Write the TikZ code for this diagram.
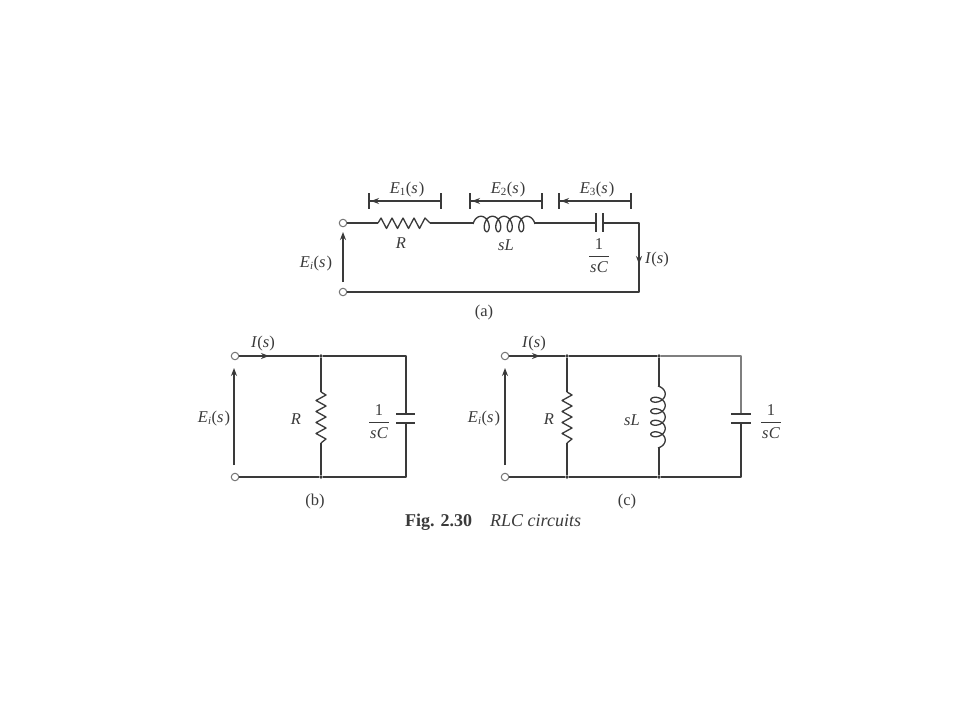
\documentclass[tikz,border=0pt]{standalone}
\usepackage{fontspec}
\setmainfont{Liberation Serif}
\usetikzlibrary{arrows.meta}
\definecolor{ink}{HTML}{3A3A3A}
\newcommand{\Evar}[1]{\textit{E}\raisebox{-0.3ex}{\fontsize{11}{12}\selectfont #1}\kern0.5pt(\textit{s}\kern1pt)}
\newcommand{\Is}{\textit{I}(\textit{s})}
\newcommand{\frc}{$\displaystyle\frac{\textrm{1}\rule[-3pt]{0pt}{0pt}}{\kern1pt\rule{0pt}{14pt}\textit{s\kern0.5pt C}\kern1pt}$}
% horizontal coil from #1 (x,y), loops below
\newcommand{\coilh}[2]{\draw[wire] plot[domain=-90:1530,samples=220,smooth] ({#1+31+0.032*(\x-720)+5*sin(\x)},{#2+1-7.7*cos(\x)});}
% vertical coil starting at (x,y) going down, loops left
\newcommand{\coilv}[2]{\draw[wire] plot[domain=-90:1530,samples=220,smooth] ({#1-1+7.2*cos(\x)},{#2+30+0.032*(\x-720)+5*sin(\x)});}
\tikzset{
  x=1pt,y=-1pt,
  wire/.style={draw=ink,line width=1.3pt,line join=round},
  lead/.style={wire,line width=2pt},
  arrowed/.style={wire,-{Stealth[length=8pt,width=6pt]}},
  terminal/.style={circle,draw=ink!70,fill=white,line width=1pt,minimum size=7.5pt,inner sep=0pt},
  junction/.style={circle,fill=ink,minimum size=3.6pt,inner sep=0pt},
  lbl/.style={text=ink,inner sep=0pt,yshift=-1.5pt,font=\fontsize{16.5}{19}\selectfont},
  plate/.style={wire,line width=1.3pt},
  bar/.style={wire,line width=1.3pt},
}
\begin{document}
\begin{tikzpicture}
\useasboundingbox[fill=white] (0,0) rectangle (960,720);

% ---------- (a) ----------
\node[terminal] (atop) at (343,223) {};
\node[terminal] (abot) at (343,292) {};
\coordinate (ar1) at (378,223);
\coordinate (ar2) at (430,223);
\coordinate (al1) at (473,223);
\coordinate (al2) at (535,223);
\coordinate (ac1) at (596,223);
\coordinate (ac2) at (603,223);
\coordinate (acorner) at (639,223);
\coordinate (abcorner) at (639,292);
\draw[wire] (atop) -- (ar1);
\draw[wire] (ar1) -- ++(3,-5) -- ++(5.5,10.5) -- ++(5.5,-10.5) -- ++(5.5,10.5) -- ++(5.5,-10.5) -- ++(5.5,10.5) -- ++(5.5,-10.5) -- ++(5.5,10.5) -- ++(5.5,-10.5) -- (ar2);
\draw[wire] (ar2) -- (al1);
\coilh{473}{223}
\draw[wire] (al2) -- (ac1);
\draw[plate] (596,213) -- (596,232);
\draw[plate] (603,213) -- (603,232);
\draw[wire] (ac2) -- (acorner) -- (abcorner) -- (abot);
\coordinate (aIa) at (639,250);
\coordinate (aIb) at (639,264);
\draw[arrowed] (aIa) -- (aIb);
\coordinate (aEa) at (343,282);
\coordinate (aEb) at (343,232);
\draw[arrowed] (aEa) -- (aEb);
% voltage bars
\foreach \n/\l/\r in {1/369/441,2/470/542,3/559/631}{
  \coordinate (e\n l) at (\l,201);
  \coordinate (e\n r) at (\r,201);
  \draw[bar] (\l,193) -- (\l,209);
  \draw[bar] (\r,193) -- (\r,209);
  \draw[wire] (e\n r) -- (e\n l);
  \draw[arrowed] (\l+11,201) -- (\l+2,201);
}
\node[lbl] (lE1) at (407,188) {\Evar{1}};
\node[lbl] (lE2) at (508,188) {\Evar{2}};
\node[lbl] (lE3) at (597,188) {\Evar{3}};
\node[lbl] (lR) at (401,242) {\textit{R}};
\node[lbl] (lL) at (506,244) {\textit{sL}};
\node[lbl] (lC) at (599,254) {\frc};
\node[lbl] (lI) at (657,258) {\Is};
\node[lbl] (lEi) at (316,262) {\Evar{\textit{i}}};
\node[lbl] (la) at (484,311) {(a)};

% ---------- (b) ----------
\node[terminal] (btop) at (235,356) {};
\node[terminal] (bbot) at (235,477) {};
\node[junction] (bj1) at (321,356) {};
\node[junction] (bj2) at (321,477) {};
\coordinate (bc1) at (406,356);
\coordinate (bc2) at (406,477);
\draw[wire] (btop) -- (bj1) -- (bc1) -- (406,414);
\draw[wire] (bbot) -- (bj2) -- (bc2) -- (406,423);
\draw[plate] (396,414) -- (415,414);
\draw[plate] (396,423) -- (415,423);
\coordinate (brt) at (321,392);
\coordinate (brb) at (321,443);
\draw[lead] (bj1) -- (brt);
\draw[lead] (brb) -- (bj2);
\draw[wire] (brt) -- ++(5,3) -- ++(-10,5.5) -- ++(10,5.5) -- ++(-10,5.5) -- ++(10,5.5) -- ++(-10,5.5) -- ++(10,5.5) -- ++(-10,5.5) -- ++(10,5.5) -- (brb);
\coordinate (bIa) at (256,356);
\coordinate (bIb) at (269,356);
\draw[arrowed] (bIa) -- (bIb);
\coordinate (bEa) at (234,465);
\coordinate (bEb) at (234,368);
\draw[arrowed] (bEa) -- (bEb);
\node[lbl] (blI) at (263,342) {\Is};
\node[lbl] (blE) at (214,417) {\Evar{\textit{i}}};
\node[lbl] (blR) at (296,418) {\textit{R}};
\node[lbl] (blC) at (379,420) {\frc};
\node[lbl] (blb) at (315,500) {(b)};

% ---------- (c) ----------
\node[terminal] (ctop) at (505,356) {};
\node[terminal] (cbot) at (505,477) {};
\node[junction] (cj1) at (567,356) {};
\node[junction] (cj2) at (567,477) {};
\node[junction] (cj3) at (659,356) {};
\node[junction] (cj4) at (659,477) {};
\coordinate (cc1) at (741,356);
\coordinate (cc2) at (741,477);
\draw[wire] (ctop) -- (cj1) -- (cj3);
\draw[wire,draw=ink!65] (cj3) -- (cc1) -- (741,414);
\draw[wire] (cbot) -- (cj2) -- (cj4) -- (cc2) -- (741,423);
\draw[plate] (731,414) -- (751,414);
\draw[plate] (731,423) -- (751,423);
\coordinate (crt) at (567,392);
\coordinate (crb) at (567,443);
\draw[lead] (cj1) -- (crt);
\draw[lead] (crb) -- (cj2);
\draw[wire] (crt) -- ++(5,3) -- ++(-10,5.5) -- ++(10,5.5) -- ++(-10,5.5) -- ++(10,5.5) -- ++(-10,5.5) -- ++(10,5.5) -- ++(-10,5.5) -- ++(10,5.5) -- (crb);
\draw[wire] (cj3) -- (659,387);
\coilv{659}{387}
\draw[wire] (659,447) -- (cj4);
\coordinate (cIa) at (527,356);
\coordinate (cIb) at (540,356);
\draw[arrowed] (cIa) -- (cIb);
\coordinate (cEa) at (505,465);
\coordinate (cEb) at (505,368);
\draw[arrowed] (cEa) -- (cEb);
\node[lbl] (clI) at (534,342) {\Is};
\node[lbl] (clE) at (484,417) {\Evar{\textit{i}}};
\node[lbl] (clR) at (549,418) {\textit{R}};
\node[lbl] (clL) at (632,419) {\textit{sL}};
\node[lbl] (clC) at (771,420) {\frc};
\node[lbl] (clc) at (627,500) {(c)};

% ---------- caption ----------
\node[lbl,anchor=west,font=\fontsize{18}{21}\selectfont] (cap) at (405,521) {\textbf{Fig. 2.30}\hspace{18pt}\textit{RLC circuits}};
\end{tikzpicture}
\end{document}
